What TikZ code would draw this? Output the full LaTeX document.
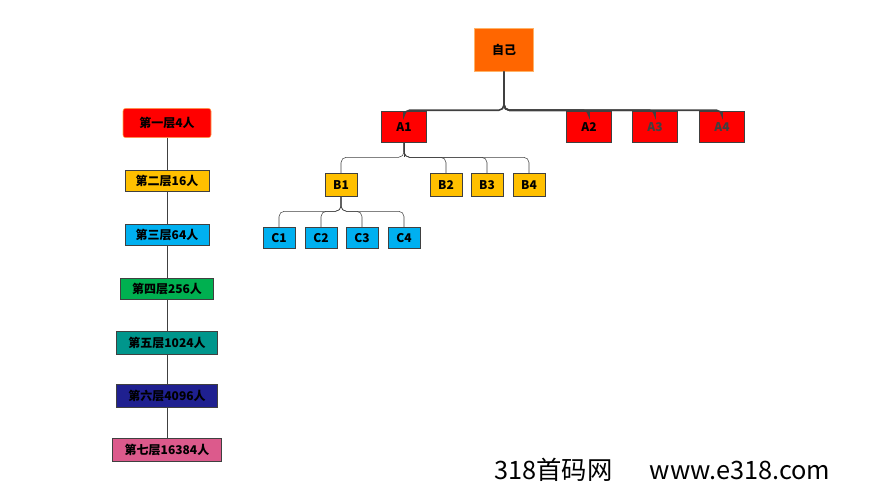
\documentclass[tikz,border=0pt]{standalone}
\usepackage{fontspec}
\setmainfont{Noto Sans CJK SC}
\usetikzlibrary{positioning}
\definecolor{selforange}{HTML}{FF6600}
\definecolor{lvred}{HTML}{FF0000}
\definecolor{lvyellow}{HTML}{FFC000}
\definecolor{lvblue}{HTML}{00B0F0}
\definecolor{lvgreen}{HTML}{00B050}
\definecolor{lvteal}{HTML}{00968C}
\definecolor{lvnavy}{HTML}{1F2090}
\definecolor{lvpink}{HTML}{DC5A8C}
\definecolor{edgegray}{HTML}{404040}

\begin{document}
\begin{tikzpicture}[
    x=0.75pt, y=-0.75pt,
    box/.style={draw=edgegray, rectangle, inner sep=0pt, font=\bfseries\fontsize{9}{9}\selectfont},
    tree_edge/.style={draw=edgegray, rounded corners=4pt},
    level_edge/.style={draw=edgegray, thin}
]
\useasboundingbox (0,0) rectangle (880,487);

% --- TREE ---
\node[box, fill=selforange, draw=orange!60, minimum width=44pt, minimum height=32pt] (self) at (504,50) {自己};

\node[box, fill=lvred, minimum width=34pt, minimum height=23pt] (a1) at (404,127) {A1};
\node[box, fill=lvred, minimum width=34pt, minimum height=23pt] (a2) at (589,127) {A2};
\node[box, fill=lvred, minimum width=34pt, minimum height=23pt, text=black!75] (a3) at (655,127) {A3};
\node[box, fill=lvred, minimum width=34pt, minimum height=23pt, text=black!75] (a4) at (722,127) {A4};

\node[box, fill=lvyellow, minimum width=24pt, minimum height=17pt] (b1) at (341,185) {B1};
\node[box, fill=lvyellow, minimum width=24pt, minimum height=17pt] (b2) at (446,185) {B2};
\node[box, fill=lvyellow, minimum width=24pt, minimum height=17pt] (b3) at (487,185) {B3};
\node[box, fill=lvyellow, minimum width=24pt, minimum height=17pt] (b4) at (529,185) {B4};

\node[box, fill=lvblue, minimum width=24pt, minimum height=16pt] (c1) at (279,238) {C1};
\node[box, fill=lvblue, minimum width=24pt, minimum height=16pt] (c2) at (321,238) {C2};
\node[box, fill=lvblue, minimum width=24pt, minimum height=16pt] (c3) at (362,238) {C3};
\node[box, fill=lvblue, minimum width=24pt, minimum height=16pt] (c4) at (404,238) {C4};

% connectors
\draw[edgegray, line width=2pt] (self.south) -- (504,87);
\foreach \n in {a1,a2,a3,a4}
  \draw[tree_edge, line width=1.2pt] (self.south) |- ([yshift=-29pt]self.south -| \n.north) -- (\n.north);
\draw[tree_edge] (a1.south) -- (404,157);
\foreach \n in {b1,b2,b3,b4}
  \draw[tree_edge] (a1.south) |- ([yshift=-11pt]a1.south -| \n.north) -- (\n.north);
\foreach \n in {c1,c2,c3,c4}
  \draw[tree_edge] (b1.south) |- ([yshift=-11pt]b1.south -| \n.north) -- (\n.north);

% --- LEVELS ---
\node[box, fill=lvred, draw=orange!70, rounded corners=2pt, minimum width=66pt, minimum height=22pt] (l1) at (167,123) {第一层4人};
\node[box, fill=lvyellow, minimum width=63pt, minimum height=16pt] (l2) at (167,181) {第二层16人};
\node[box, fill=lvblue, minimum width=63pt, minimum height=16pt] (l3) at (167,235) {第三层64人};
\node[box, fill=lvgreen, minimum width=70pt, minimum height=16pt] (l4) at (167,289) {第四层256人};
\node[box, fill=lvteal, minimum width=76pt, minimum height=17pt] (l5) at (167,343) {第五层1024人};
\node[box, fill=lvnavy, minimum width=76pt, minimum height=17pt] (l6) at (167,396) {第六层4096人};
\node[box, fill=lvpink, minimum width=82pt, minimum height=17pt] (l7) at (167,450) {第七层16384人};
\foreach \a/\b in {l1/l2,l2/l3,l3/l4,l4/l5,l5/l6,l6/l7}
  \draw[level_edge] (\a) -- (\b);

% --- WATERMARK ---
\node[anchor=west, font=\fontsize{19}{19}\selectfont, inner sep=0pt] (mark) at (494,470) {318首码网\hspace{28pt}www.e318.com};
\end{tikzpicture}
\end{document}
